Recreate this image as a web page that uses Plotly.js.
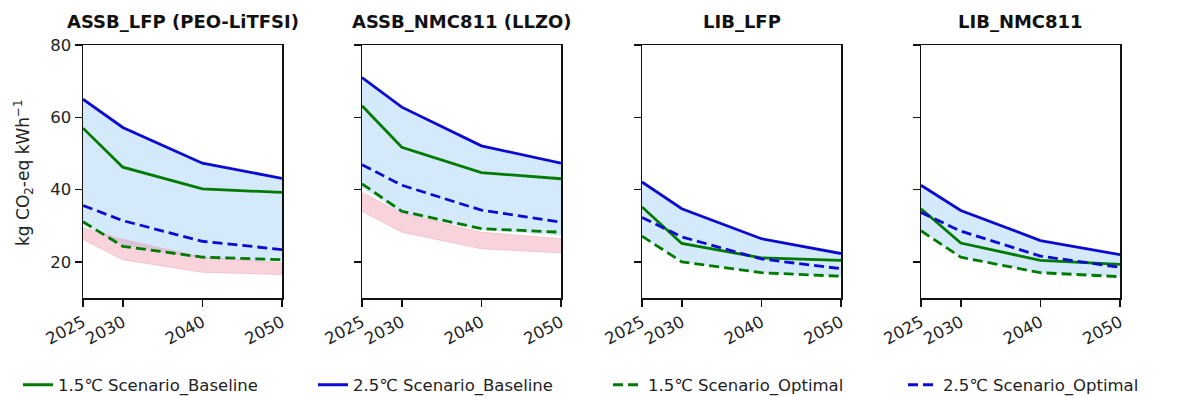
<!DOCTYPE html>
<html>
<head>
<meta charset="utf-8">
<script src="https://cdn.plot.ly/plotly-3.0.1.min.js"></script>
<style>html,body{margin:0;padding:0;background:#fff;}#chart{width:1184px;height:397px;}</style>
</head>
<body>
<div id="chart"></div>
<script>
const years = [2025, 2030, 2040, 2050];
const panelTitles = ['ASSB_LFP (PEO-LiTFSI)', 'ASSB_NMC811 (LLZO)', 'LIB_LFP', 'LIB_NMC811'];
const seriesNames = ['1.5\u2103 Scenario_Baseline', '2.5\u2103 Scenario_Baseline', '1.5\u2103 Scenario_Optimal', '2.5\u2103 Scenario_Optimal'];

const baseline15 = [[57.0, 46.2, 40.2, 39.2], [63.2, 51.7, 44.7, 43.0], [35.2, 25.1, 21.1, 20.4], [34.7, 25.2, 20.4, 19.3]];
const baseline25 = [[65.0, 57.2, 47.3, 43.1], [71.0, 62.8, 52.1, 47.3], [42.1, 34.7, 26.4, 22.3], [41.2, 34.2, 25.9, 22.0]];
const optimal15 = [[31.1, 24.3, 21.3, 20.6], [41.6, 34.0, 29.2, 28.2], [27.1, 20.0, 17.0, 16.0], [28.6, 21.3, 17.0, 15.9]];
const optimal25 = [[35.6, 31.4, 25.7, 23.4], [46.9, 41.2, 34.3, 31.0], [32.3, 26.9, 20.8, 18.1], [33.7, 28.5, 21.6, 18.5]];

// shaded ranges
const blueLow = [[30.5, 24.5, 20.9, 20.0], [40.5, 33.5, 28.8, 27.3], [27.1, 20.0, 17.0, 16.0], [28.6, 21.3, 17.0, 15.9]];
const pinkTop = [[29.4, 26.2, 21.3, 19.7], [39.2, 33.5, 28.2, 26.4], null, null];
const pinkBottom = [[26.2, 20.6, 17.1, 16.5], [34.0, 28.2, 23.6, 22.5], null, null];

const GREEN = '#007a00';
const BLUE = '#0a0ad2';
const W = 1184, H = 397;
const xPix = [[83, 282], [362, 561], [642, 841], [921, 1120]];
const yDom = [(H - 298) / H, (H - 45) / H];

const traces = [];
const layout = {
  width: W, height: H,
  margin: {l: 0, r: 0, t: 0, b: 0, autoexpand: false},
  paper_bgcolor: '#fff', plot_bgcolor: '#fff',
  font: {family: 'DejaVu Sans, sans-serif', color: '#222', size: 16},
  showlegend: true,
  legend: {orientation: 'h', x: 18 / W, xanchor: 'left', y: (H - 385) / H, yanchor: 'middle',
           font: {size: 16.5, color: '#222'}, bgcolor: 'rgba(0,0,0,0)', traceorder: 'normal',
           entrywidth: 250, entrywidthmode: 'pixels'},
  annotations: []
};

for (let i = 0; i < 4; i++) {
  const xa = i === 0 ? 'x' : 'x' + (i + 1);
  const ya = i === 0 ? 'y' : 'y' + (i + 1);
  const base = {xaxis: xa, yaxis: ya, hoverinfo: 'skip'};
  // blue band
  traces.push(Object.assign({}, base, {x: years, y: blueLow[i], mode: 'lines', line: {width: 0}, showlegend: false}));
  traces.push(Object.assign({}, base, {x: years, y: baseline25[i], mode: 'lines', line: {width: 0}, fill: 'tonexty', fillcolor: 'rgba(135,195,240,0.36)', showlegend: false}));
  if (pinkTop[i]) {
    traces.push(Object.assign({}, base, {x: years, y: pinkBottom[i], mode: 'lines', line: {width: 0.8, color: 'rgba(240,160,180,0.6)'}, showlegend: false}));
    traces.push(Object.assign({}, base, {x: years, y: pinkTop[i], mode: 'lines', line: {width: 0.8, color: 'rgba(240,160,180,0.6)'}, fill: 'tonexty', fillcolor: 'rgba(235,120,145,0.33)', showlegend: false}));
  }
  const leg = i === 0;
  traces.push(Object.assign({}, base, {x: years, y: baseline15[i], mode: 'lines', name: seriesNames[0], legendgroup: 'a', showlegend: leg, line: {color: GREEN, width: 2.8}}));
  traces.push(Object.assign({}, base, {x: years, y: baseline25[i], mode: 'lines', name: seriesNames[1], legendgroup: 'b', showlegend: leg, line: {color: BLUE, width: 2.8}}));
  traces.push(Object.assign({}, base, {x: years, y: optimal15[i], mode: 'lines', name: seriesNames[2], legendgroup: 'c', showlegend: leg, line: {color: GREEN, width: 2.8, dash: '10px,5px'}}));
  traces.push(Object.assign({}, base, {x: years, y: optimal25[i], mode: 'lines', name: seriesNames[3], legendgroup: 'd', showlegend: leg, line: {color: BLUE, width: 2.8, dash: '10px,5px'}}));

  const xk = i === 0 ? 'xaxis' : 'xaxis' + (i + 1);
  const yk = i === 0 ? 'yaxis' : 'yaxis' + (i + 1);
  layout[xk] = {
    domain: [xPix[i][0] / W, xPix[i][1] / W], anchor: ya, range: [2025, 2050],
    tickmode: 'array', tickvals: years, ticktext: years.map(String), tickangle: -28,
    showgrid: false, zeroline: false, showline: true, mirror: true, linecolor: '#111', linewidth: 1.5,
    ticks: 'outside', ticklen: 7, tickwidth: 1.5, tickcolor: '#111', automargin: false,
    tickfont: {size: 16.5, color: '#222'}
  };
  layout[yk] = {
    domain: yDom, anchor: xa, range: [10, 80],
    tickmode: 'array', tickvals: [20, 40, 60, 80], showticklabels: i === 0,
    showgrid: false, zeroline: false, showline: true, mirror: true, linecolor: '#111', linewidth: 1.5,
    ticks: 'outside', ticklen: 7, tickwidth: 1.5, tickcolor: '#111', automargin: false,
    tickfont: {size: 16.5, color: '#222'}
  };
  layout.annotations.push({
    text: '<b>' + panelTitles[i] + '</b>', xref: 'paper', yref: 'paper',
    x: (xPix[i][0] + xPix[i][1]) / 2 / W, y: (H - 22) / H, xanchor: 'center', yanchor: 'middle',
    showarrow: false, font: {size: 18, color: '#111'}
  });
}
layout.annotations.push({
  text: 'kg CO<sub>2</sub>-eq kWh<sup>\u22121</sup>', xref: 'paper', yref: 'paper',
  x: 23 / W, y: (H - 173) / H, xanchor: 'center', yanchor: 'middle', textangle: -90,
  showarrow: false, font: {size: 17, color: '#222'}
});

Plotly.newPlot('chart', traces, layout, {displayModeBar: false, staticPlot: true});
</script>
</body>
</html>
